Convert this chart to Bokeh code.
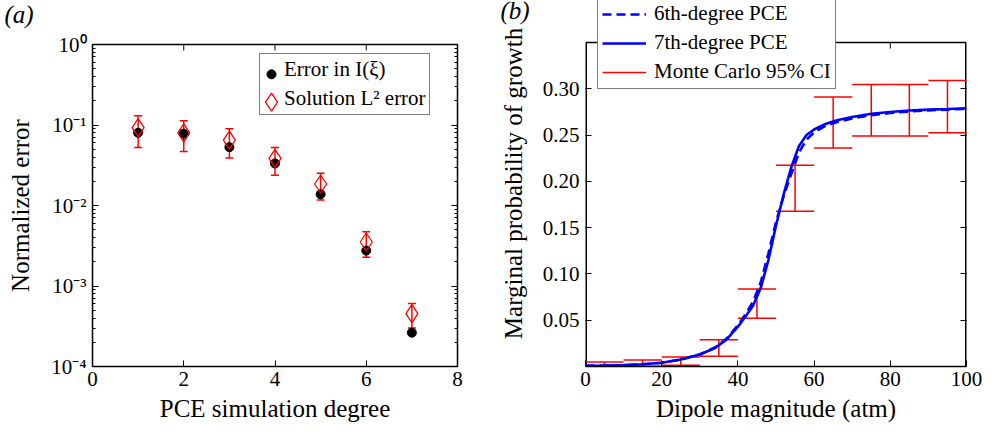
import math
from bokeh.plotting import figure
from bokeh.models import (ColumnDataSource, Whisker, TeeHead, Legend, LegendItem,
                          LinearAxis, LogAxis, FixedTicker, LogTicker, Title,
                          CustomJSTickFormatter, NumeralTickFormatter, Range1d)
from bokeh.layouts import row
from bokeh.embed import file_html
from bokeh.resources import INLINE

FONT = "Liberation Serif"

# ---------------- panel (a) data ----------------
degree = [1, 2, 3, 4, 5, 6, 7]
err_I = [0.080, 0.078, 0.053, 0.0333, 0.0138, 0.00275, 0.000263]
err_L2 = [0.093, 0.080, 0.065, 0.0384, 0.0185, 0.00352, 0.000455]
err_L2_upper = [0.130, 0.113, 0.090, 0.0525, 0.0251, 0.00473, 0.000605]
err_L2_lower = [0.0525, 0.0468, 0.0389, 0.0237, 0.0117, 0.00228, 0.000300]
a_xlim = (0, 8)
a_ylim = (1e-4, 1e0)
a_xticks = [0, 2, 4, 6, 8]
a_labels = ["Error in I(\u03be)", "Solution L\u00b2 error"]

# ---------------- panel (b) data ----------------
dipole = [0, 5, 10, 15, 20, 25, 30, 34, 37, 40, 42, 44, 46, 48, 50, 52, 54,
          56, 58, 60, 63, 66, 70, 75, 80, 85, 90, 95, 100]
pce7 = [0.0008, 0.0010, 0.0015, 0.0025, 0.0040, 0.0075, 0.0130, 0.0200, 0.0290,
        0.0430, 0.0540, 0.0660, 0.0850, 0.1150, 0.1520, 0.1860, 0.2150, 0.2380,
        0.2500, 0.2560, 0.2620, 0.2660, 0.2695, 0.2730, 0.2750, 0.2765, 0.2775,
        0.2782, 0.2790]
pce6 = [0.0008, 0.0010, 0.0014, 0.0024, 0.0040, 0.0075, 0.0130, 0.0205, 0.0300,
        0.0445, 0.0565, 0.0700, 0.0910, 0.1220, 0.1560, 0.1840, 0.2080, 0.2310,
        0.2450, 0.2530, 0.2600, 0.2640, 0.2680, 0.2715, 0.2738, 0.2755, 0.2767,
        0.2775, 0.2783]
mc_center = [5, 15, 25, 35, 45, 55, 65, 75, 85, 95]
mc_upper = [0.0049, 0.0070, 0.0103, 0.0290, 0.0837, 0.2175, 0.2910, 0.3047, 0.3047, 0.3090]
mc_lower = [0.0000, 0.0002, 0.0013, 0.0110, 0.0520, 0.1677, 0.2360, 0.2490, 0.2490, 0.2524]
mc_bin_width = 10
b_xlim = (0, 100)
b_ylim = (0, 0.35)
b_xticks = [0, 20, 40, 60, 80, 100]
b_yticks = [0.05, 0.10, 0.15, 0.20, 0.25, 0.30]
b_labels = ["6th-degree PCE", "7th-degree PCE", "Monte Carlo 95% CI"]

# ---------------- layout constants (pixels) ----------------
H = 432
TOP, BOTTOM = 42, 66          # frame top / bottom borders
FRAME_H = H - TOP - BOTTOM    # 324
A_W, A_LEFT, A_RIGHT = 490, 92, 33
A_FRAME_W = A_W - A_LEFT - A_RIGHT
B_W, B_LEFT, B_RIGHT = 504, 95, 28

BLANK = CustomJSTickFormatter(code="return '';")
SUP = CustomJSTickFormatter(code="""
const e = Math.round(Math.log10(tick));
const m = {'-':'\u207b','0':'\u2070','1':'\u00b9','2':'\u00b2','3':'\u00b3','4':'\u2074',
           '5':'\u2075','6':'\u2076','7':'\u2077','8':'\u2078','9':'\u2079'};
return '10' + String(e).split('').map(c => m[c]).join('');
""")


def style_axis(ax):
    ax.axis_line_color = None
    ax.major_tick_in = 6
    ax.major_tick_out = 0
    ax.minor_tick_in = 3
    ax.minor_tick_out = 0
    ax.major_tick_line_color = "black"
    ax.minor_tick_line_color = "black"
    ax.major_label_text_font = FONT
    ax.major_label_text_font_size = "21px"
    ax.major_label_text_color = "black"
    ax.axis_label_text_font = FONT
    ax.axis_label_text_font_size = "25px"
    ax.axis_label_text_font_style = "normal"
    ax.axis_label_text_color = "black"


def style_legend(leg):
    leg.label_text_font = FONT
    leg.label_text_font_size = "21px"
    leg.label_text_color = "black"
    leg.border_line_color = "black"
    leg.border_line_width = 1
    leg.background_fill_color = "white"
    leg.background_fill_alpha = 1
    leg.margin = 0
    leg.glyph_height = 24
    leg.label_height = 24


def panel_title(text, offset, standoff):
    return Title(text=text, text_font=FONT, text_font_size="25px", text_font_style="italic",
                 text_color="black", align="left", vertical_align="top",
                 offset=offset, standoff=standoff)


# ================= panel (a) =================
pa = figure(width=A_W, height=H, output_backend="svg", toolbar_location=None,
            x_range=Range1d(*a_xlim), y_range=Range1d(*a_ylim), y_axis_type="log",
            min_border_left=A_LEFT, min_border_right=A_RIGHT,
            min_border_top=TOP, min_border_bottom=BOTTOM)
pa.frame_align = False
pa.xgrid.visible = False
pa.ygrid.visible = False
pa.outline_line_color = "black"
pa.outline_line_width = 1.5
pa.xaxis.ticker = FixedTicker(ticks=a_xticks)
pa.yaxis.ticker = LogTicker(num_minor_ticks=10)
pa.yaxis.formatter = SUP
pa.xaxis.axis_label = "PCE simulation degree"
pa.yaxis.axis_label = "Normalized error"
for ax in pa.xaxis + pa.yaxis:
    style_axis(ax)
pa.xaxis.major_label_standoff = 5
pa.xaxis.axis_label_standoff = 6
pa.yaxis.major_label_standoff = 6
pa.yaxis.axis_label_standoff = 14
right_a = LogAxis(ticker=LogTicker(num_minor_ticks=10), formatter=BLANK)
style_axis(right_a)
right_a.major_label_standoff = 0
pa.add_layout(right_a, "right")
# spacer next to the frame, then the panel letter above it
pa.add_layout(Title(text=" ", text_font_size="1px", standoff=11), "above")
pa.add_layout(panel_title("(a)", -88, 1), "above")

src_a = ColumnDataSource(dict(x=degree, I=err_I, L2=err_L2, up=err_L2_upper, lo=err_L2_lower))
DOT = dict(marker="circle", size=9, fill_color="black", line_color="black")
DIA = dict(marker="diamond", size=18, fill_color=None, line_color="red", line_width=1.3)
pa.scatter("x", "I", source=src_a, **DOT)
pa.scatter("x", "L2", source=src_a, **DIA)
pa.add_layout(Whisker(base="x", upper="up", lower="lo", source=src_a,
                      line_color="red", line_width=1.5,
                      upper_head=TeeHead(size=8, line_color="red", line_width=1.5),
                      lower_head=TeeHead(size=8, line_color="red", line_width=1.5)))
# top ticks of the box of panel (a)
tick_dec = 6 / FRAME_H * (math.log10(a_ylim[1]) - math.log10(a_ylim[0]))
pa.segment(x0=a_xticks[1:-1], x1=a_xticks[1:-1], y0=[a_ylim[1]] * 3,
           y1=[a_ylim[1] / 10 ** tick_dec] * 3, line_color="black", line_width=1)

# legend (a): box + labels from Legend, keys drawn at full marker size
LEG_A_X, LEG_A_Y, LEG_A_PAD, LEG_A_SP, LEG_A_GW, ROW_H = 167, 251, 3, 4, 18, 24
ghost_dot = pa.scatter(x=[], y=[], marker="circle", fill_alpha=0, line_alpha=0)
ghost_dia = pa.scatter(x=[], y=[], marker="diamond", fill_alpha=0, line_alpha=0)
leg_a = Legend(items=[LegendItem(label=a_labels[0], renderers=[ghost_dot]),
                      LegendItem(label=a_labels[1], renderers=[ghost_dia])],
               location=(LEG_A_X, LEG_A_Y))
style_legend(leg_a)
leg_a.background_fill_alpha = 0
leg_a.padding = LEG_A_PAD
leg_a.spacing = LEG_A_SP
leg_a.glyph_width = LEG_A_GW
leg_a.label_standoff = 3
pa.add_layout(leg_a)


def px_to_a(px, py):
    lx0, lx1 = a_xlim
    ly0, ly1 = math.log10(a_ylim[0]), math.log10(a_ylim[1])
    return lx0 + px / A_FRAME_W * (lx1 - lx0), 10 ** (ly0 + py / FRAME_H * (ly1 - ly0))


box_top = LEG_A_Y + 2 * LEG_A_PAD + 2 * ROW_H + LEG_A_SP
kx = LEG_A_X + LEG_A_PAD + LEG_A_GW / 2
ky1 = box_top - LEG_A_PAD - ROW_H / 2
ky2 = ky1 - ROW_H - LEG_A_SP
k1 = px_to_a(kx, ky1)
k2 = px_to_a(kx, ky2)
pa.scatter(x=[k1[0]], y=[k1[1]], **DOT)
pa.scatter(x=[k2[0]], y=[k2[1]], **DIA)

# ================= panel (b) =================
# frame extends up to the page top so the legend can overlap the plot box
B_FRAME_H = H - BOTTOM
y_full = b_ylim[1] * B_FRAME_H / FRAME_H
pb = figure(width=B_W, height=H, output_backend="svg", toolbar_location=None,
            x_range=Range1d(*b_xlim), y_range=Range1d(b_ylim[0], y_full),
            min_border_left=B_LEFT, min_border_right=B_RIGHT,
            min_border_top=0, min_border_bottom=BOTTOM)
pb.frame_align = False
pb.xgrid.visible = False
pb.ygrid.visible = False
pb.outline_line_color = None
pb.xaxis.ticker = FixedTicker(ticks=b_xticks)
pb.yaxis.ticker = FixedTicker(ticks=b_yticks)
pb.yaxis.formatter = NumeralTickFormatter(format="0.00")
pb.xaxis.axis_label = "Dipole magnitude (atm)"
pb.yaxis.axis_label = "Marginal probability of growth"
for ax in pb.xaxis + pb.yaxis:
    style_axis(ax)
pb.xaxis.axis_line_color = "black"
pb.xaxis.axis_line_width = 1.5
pb.xaxis.major_label_standoff = 5
pb.xaxis.axis_label_standoff = 6
pb.yaxis.major_label_standoff = 6
pb.yaxis.axis_label_standoff = 13
right_b = LinearAxis(ticker=FixedTicker(ticks=b_yticks), formatter=BLANK)
style_axis(right_b)
right_b.major_label_standoff = 0
pb.add_layout(right_b, "right")
pb.add_layout(panel_title("\n(b)", -85, -61), "above")

# plot box of panel (b)
box_src = ColumnDataSource(dict(
    x0=[b_xlim[0], b_xlim[1], b_xlim[0]], x1=[b_xlim[0], b_xlim[1], b_xlim[1]],
    y0=[b_ylim[0], b_ylim[0], b_ylim[1]], y1=[b_ylim[1], b_ylim[1], b_ylim[1]],
    w=[3, 3, 1.5]))
pb.segment(x0="x0", y0="y0", x1="x1", y1="y1", line_width="w", source=box_src,
           line_color="black")
top_tick_len = 6 * (y_full - b_ylim[0]) / B_FRAME_H
tick_src = ColumnDataSource(dict(x=b_xticks[1:-1], y0=[b_ylim[1]] * 4,
                                 y1=[b_ylim[1] - top_tick_len] * 4))
pb.segment(x0="x", x1="x", y0="y0", y1="y1", source=tick_src, line_color="black",
           line_width=1)

half = mc_bin_width / 2
src_mc = ColumnDataSource(dict(
    xc=mc_center, up=mc_upper, lo=mc_lower,
    x0=[c - half for c in mc_center], x1=[c + half for c in mc_center]))
r_mc = pb.segment(x0="xc", y0="lo", x1="xc", y1="up", source=src_mc,
                  line_color="red", line_width=1.5)
pb.segment(x0="x0", y0="up", x1="x1", y1="up", source=src_mc, line_color="red", line_width=1.5)
pb.segment(x0="x0", y0="lo", x1="x1", y1="lo", source=src_mc, line_color="red", line_width=1.5)

src_b = ColumnDataSource(dict(x=dipole, p6=pce6, p7=pce7))
r6 = pb.line("x", "p6", source=src_b, line_color="blue", line_width=2.6, line_dash="9 5")
r7 = pb.line("x", "p7", source=src_b, line_color="blue", line_width=2.6)

leg_b = Legend(items=[LegendItem(label=b_labels[0], renderers=[r6]),
                      LegendItem(label=b_labels[1], renderers=[r7]),
                      LegendItem(label=b_labels[2], renderers=[r_mc])],
               location=(12, B_FRAME_H - 89))
style_legend(leg_b)
leg_b.glyph_width = 44
leg_b.label_standoff = 8
leg_b.padding = 4
leg_b.spacing = 4
pb.add_layout(leg_b)

layout = row(pa, pb)
open("out.html", "w").write(file_html(layout, INLINE))
